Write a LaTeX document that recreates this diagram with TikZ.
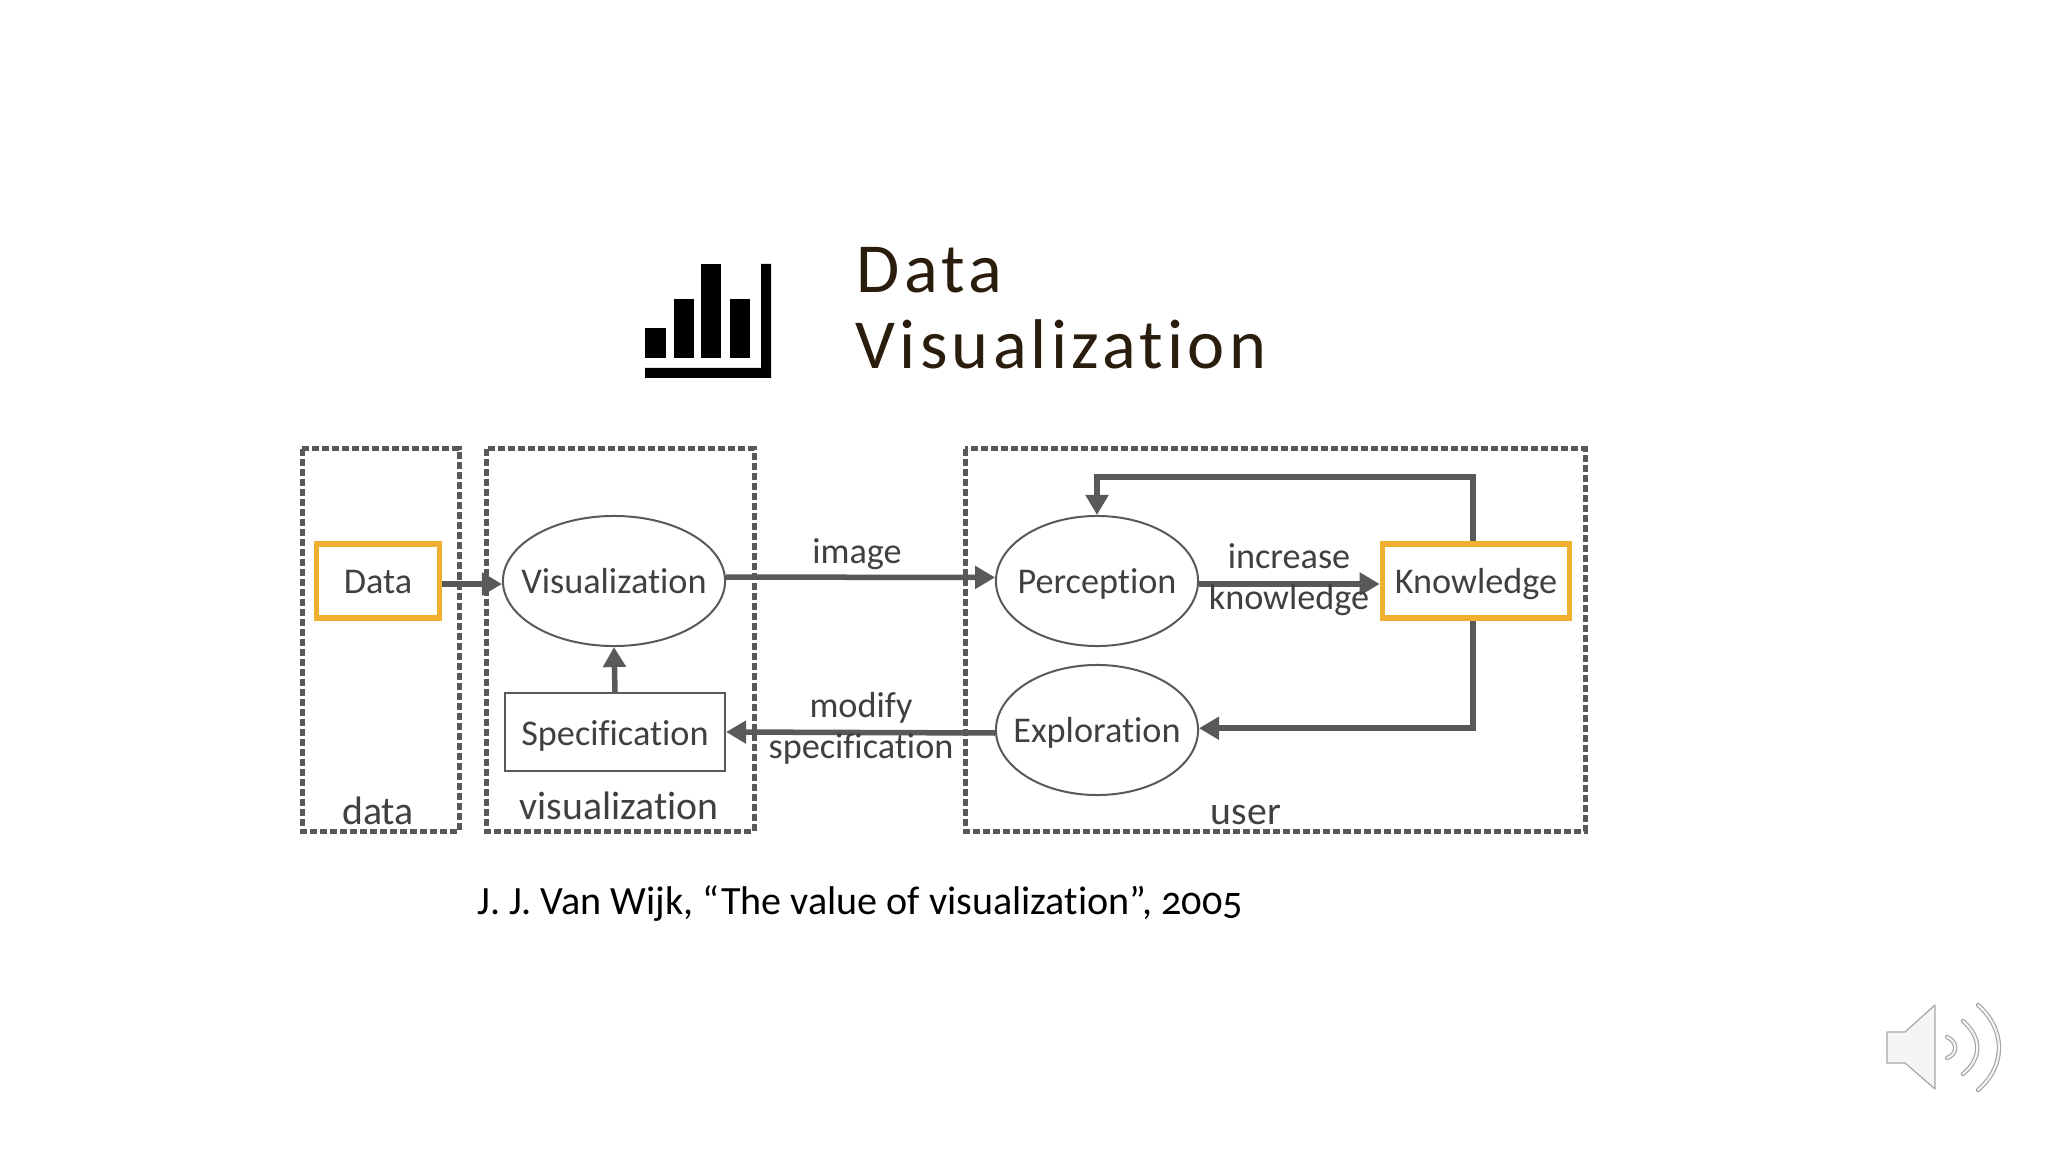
\documentclass[tikz,border=0pt]{standalone}
\usepackage{fontspec}
\setmainfont{Carlito}[Numbers=OldStyle,Ligatures=NoCommon]
\newfontfamily\titlefont[LetterSpace=6,Ligatures=NoCommon]{Carlito}
\usetikzlibrary{arrows.meta,shapes.geometric}
\definecolor{flowgray}{HTML}{595959}
\definecolor{textgray}{HTML}{404040}
\definecolor{keyorange}{HTML}{F0B02F}
\definecolor{titlebrown}{HTML}{2B1D0E}
\tikzset{
  groupbox/.style={draw=flowgray,line width=0.05cm,dash pattern=on 0.07cm off 0.03cm},
  flowarrow/.style={draw=flowgray,line width=0.055cm,-{Triangle[length=0.2cm,width=0.22cm]}},
  keybox/.style={draw=keyorange,line width=0.055cm,text=textgray,font=\fontsize{10.3}{13}\selectfont,
    minimum height=0.74cm,inner sep=0pt,text height=0.32cm,text depth=0.08cm},
  stepoval/.style={draw=flowgray,line width=0.02cm,shape=ellipse,text=textgray,
    font=\fontsize{10.3}{13}\selectfont,minimum height=1.3cm,inner ysep=0pt,inner xsep=-0.3cm,
    text height=0.32cm,text depth=0.08cm},
  flowtext/.style={text=textgray,font=\fontsize{10.3}{13}\selectfont,inner sep=0pt},
  grouptext/.style={text=textgray,font=\fontsize{11.3}{14}\selectfont,inner sep=0pt},
}
\begin{document}
\begin{tikzpicture}[x=0.01cm,y=-0.01cm]
  \useasboundingbox (0,0) rectangle (2048,1152);
  % logo and heading
  \fill[black] (645,328) rectangle (666,358);
  \fill[black] (674,299) rectangle (694,358);
  \fill[black] (701,264) rectangle (721,358);
  \fill[black] (730,299) rectangle (750,358);
  \fill[black] (645,378) -- (771,378) -- (771,264) -- (761,264) -- (761,368) -- (645,368) -- cycle;
  \node[text=titlebrown,font=\titlefont\fontsize{20}{22}\selectfont,anchor=west,inner sep=0pt] (HeadA) at (856,270) {Data};
  \node[text=titlebrown,font=\titlefont\fontsize{20}{22}\selectfont,anchor=west,inner sep=0pt] (HeadB) at (855,344) {Visualization};
  % dashed groups
  \draw[groupbox] (302,449) rectangle (459,831);
  \draw[groupbox] (486,449) rectangle (754,831);
  \draw[groupbox] (965,449) rectangle (1585,831);
  % nodes
  \node[keybox,minimum width=1.23cm] (Data) at (378,581) {Data};
  \node[stepoval,minimum width=2.22cm] (Visualization) at (614,581) {Visualization};
  \node[draw=flowgray,line width=0.02cm,text=textgray,font=\fontsize{10.3}{13}\selectfont,
    minimum width=2.2cm,minimum height=0.78cm,inner sep=0pt,text height=0.34cm,text depth=0.08cm] (Specification) at (615,732) {Specification};
  \node[stepoval,minimum width=2.02cm] (Perception) at (1097,581) {Perception};
  \node[stepoval,minimum width=2.02cm] (Exploration) at (1097,730) {Exploration};
  \node[keybox,minimum width=1.87cm] (Knowledge) at (1476,581) {Knowledge};
  \coordinate (LoopTop) at (1097,477);
  % connectors
  \draw[flowarrow] ([yshift=-0.03cm]Data.east) -- ([yshift=-0.03cm]Visualization.west);
  \draw[flowarrow] (Visualization.2) -- (Perception.178);
  \draw[flowarrow] (Specification.north) -- (Visualization.south);
  \draw[flowarrow] ([yshift=-0.03cm]Exploration.west) -- (Specification.east);
  \draw[flowarrow] ([yshift=-0.03cm]Perception.east) -- ([yshift=-0.03cm]Knowledge.west);
  \draw[flowarrow] ([xshift=-0.03cm]Knowledge.north) |- (LoopTop) -- (Perception.north);
  \draw[flowarrow] ([xshift=-0.03cm]Knowledge.south) |- (Exploration.1);
  % labels
  \node[flowtext] (ImageText) at (857,554) {image};
  \node[flowtext] (IncreaseText) at (1289,556) {increase};
  \node[flowtext] (KnowledgeText) at (1289,600) {knowledge};
  \node[flowtext] (ModifyText) at (861,708) {modify};
  \node[flowtext] (SpecText) at (861,749) {specification};
  \node[grouptext] (DataText) at (378,811) {data};
  \node[grouptext] (VisText) at (619,806) {visualization};
  \node[grouptext] (UserText) at (1246,815) {user};
  \node[text=black,font=\fontsize{11.4}{14}\selectfont,anchor=west,inner sep=0pt] (CiteText) at (477,903) {J. J. Van Wijk, “The value of visualization”, 2005};
  % speaker
  \draw[gray!70,fill=gray!8,line width=0.012cm,line join=round] (1887,1032) -- (1905,1032) -- (1935,1005) -- (1935,1089) -- (1905,1063) -- (1887,1063) -- cycle;
  \draw[gray!70,line width=0.012cm,double=gray!8,double distance=0.02cm,line cap=round] (1947,1037) .. controls (1958,1042) and (1958,1054) .. (1947,1058);
  \draw[gray!70,line width=0.012cm,double=gray!8,double distance=0.02cm,line cap=round] (1963,1021) .. controls (1982,1038) and (1982,1058) .. (1963,1074);
  \draw[gray!70,line width=0.012cm,double=gray!8,double distance=0.02cm,line cap=round] (1978,1005) .. controls (2006,1030) and (2006,1066) .. (1978,1090);
\end{tikzpicture}
\end{document}
